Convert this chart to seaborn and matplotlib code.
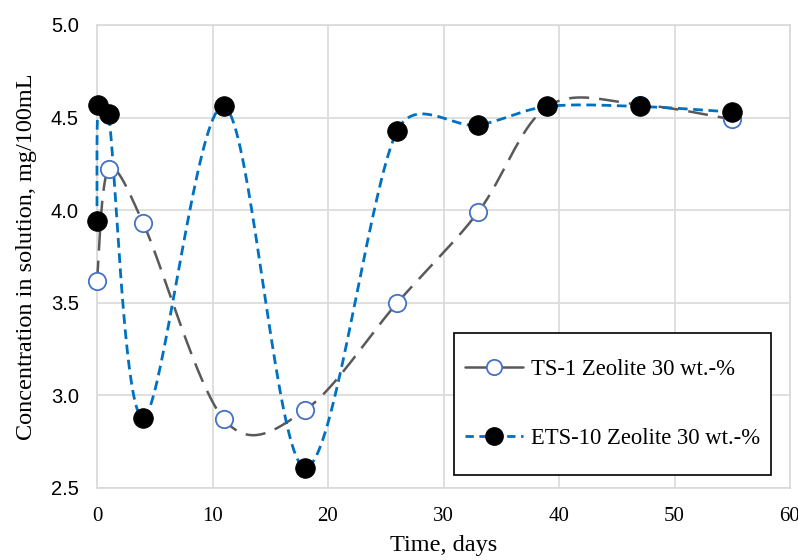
import numpy as np
import pandas as pd
import matplotlib
matplotlib.use("Agg")
import matplotlib.pyplot as plt
from matplotlib.lines import Line2D
from matplotlib.patches import Rectangle
import seaborn as sns

# ---- data ----
ts1_days = [0, 1, 4, 11, 18, 26, 33, 39, 47, 55]
ts1_conc = [3.62, 4.22, 3.93, 2.87, 2.92, 3.50, 3.99, 4.56, 4.57, 4.49]
ets_days = [0, 0.1, 1, 4, 11, 18, 26, 33, 39, 47, 55]
ets_conc = [3.94, 4.57, 4.52, 2.88, 4.56, 2.61, 4.43, 4.46, 4.56, 4.56, 4.53]
ts1_label = "TS-1 Zeolite 30 wt.-%"
ets_label = "ETS-10 Zeolite 30 wt.-%"
x_ticks = [0, 10, 20, 30, 40, 50, 60]
y_ticks = [2.5, 3.0, 3.5, 4.0, 4.5, 5.0]

W, H, DPI = 7.98, 5.6, 100
L, R, T, B = 97, 790, 25, 488
XMIN, XMAX, YMIN, YMAX = 0, 60, 2.5, 5.0
SX = (R - L) / (XMAX - XMIN)
SY = (B - T) / (YMAX - YMIN)


def excel_smooth(xs, ys, n=40):
    """Bezier smoothing similar to spreadsheet 'smoothed line', in pixel space."""
    P = np.column_stack([np.asarray(xs, float) * SX, np.asarray(ys, float) * SY])
    m = len(P)
    out = [P[0]]
    for i in range(m - 1):
        p0 = P[i - 1] if i > 0 else P[i]
        p1 = P[i]
        p2 = P[i + 1]
        p3 = P[i + 2] if i + 2 < m else P[i + 1]
        d12 = np.linalg.norm(p2 - p1)
        a1 = (p2 - p0) / 6.0
        a2 = (p3 - p1) / 6.0
        for a in (a1, a2):
            la = np.linalg.norm(a)
            if la > d12 / 2 and la > 0:
                a *= (d12 / 2) / la
        c1 = p1 + a1
        c2 = p2 - a2
        t = np.linspace(0, 1, n)[1:, None]
        seg = ((1 - t) ** 3) * p1 + 3 * ((1 - t) ** 2) * t * c1 + 3 * (1 - t) * t ** 2 * c2 + t ** 3 * p2
        out.extend(seg)
    out = np.array(out)
    return out[:, 0] / SX, out[:, 1] / SY


sns.set_theme(style="white")
plt.rcParams["font.family"] = ["Liberation Serif", "DejaVu Serif"]
plt.rcParams["text.color"] = "black"
plt.rcParams["axes.labelcolor"] = "black"
plt.rcParams["xtick.color"] = "black"
plt.rcParams["ytick.color"] = "black"

fig = plt.figure(figsize=(W, H), dpi=DPI)
ax = fig.add_axes([L / (W * DPI), 1 - B / (H * DPI), (R - L) / (W * DPI), (B - T) / (H * DPI)])

grid_c = "#D9D9D9"
gray = "#595959"
blue = "#0070C0"
mk_edge = "#4472C4"
gray_ls = (0, (8, 4))
blue_ls = (0, (3.5, 2))

cx, cy = excel_smooth(ts1_days, ts1_conc)
ts1_curve = pd.DataFrame({"x": cx, "y": cy})
cx2, cy2 = excel_smooth(ets_days, ets_conc)
ets_curve = pd.DataFrame({"x": cx2, "y": cy2})

sns.lineplot(data=ts1_curve, x="x", y="y", sort=False, estimator=None, ax=ax,
             color=gray, linewidth=1.8, linestyle=gray_ls, clip_on=False, zorder=3)
sns.lineplot(data=ets_curve, x="x", y="y", sort=False, estimator=None, ax=ax,
             color=blue, linewidth=2.0, linestyle=blue_ls, clip_on=False, zorder=4)

sns.scatterplot(x=ts1_days, y=ts1_conc, ax=ax, s=12.5 ** 2, color="white",
                edgecolor=mk_edge, linewidth=1.3, clip_on=False, zorder=5, legend=False)
sns.scatterplot(x=ets_days, y=ets_conc, ax=ax, s=14.2 ** 2, color="black",
                edgecolor="black", linewidth=0.5, clip_on=False, zorder=6, legend=False)

ax.set_xlim(XMIN, XMAX)
ax.set_ylim(YMIN, YMAX)
ax.set_xticks(x_ticks)
ax.set_yticks(y_ticks)
ax.set_xticklabels([str(v) for v in x_ticks], fontsize=15, family=["Liberation Serif"])
ax.set_yticklabels([f"{v:.1f}" for v in y_ticks], fontsize=14.5, family=["Liberation Sans"])
ax.tick_params(axis="x", length=0, pad=14)
ax.tick_params(axis="y", length=0, pad=13)
ax.grid(True, color=grid_c, linewidth=1.2, zorder=0)
ax.set_axisbelow(True)
for s in ax.spines.values():
    s.set_color(grid_c)
    s.set_linewidth(1.2)
ax.set_xlabel("Time, days", fontsize=17.5, labelpad=6)
ax.set_ylabel("Concentration in solution, mg/100mL", fontsize=17.5, labelpad=10)

# legend box
bx0, bx1, by0, by1 = 454, 771, 333, 475
rect = Rectangle(((bx0 - L) / (R - L), (B - by1) / (B - T)), (bx1 - bx0) / (R - L), (by1 - by0) / (B - T),
                 transform=ax.transAxes, facecolor="white", edgecolor="black", linewidth=1.2,
                 zorder=10, clip_on=False)
ax.add_patch(rect)
handles = [
    Line2D([], [], color=gray, linewidth=1.8, marker="o", markersize=11, markerfacecolor="white",
           markeredgecolor=mk_edge, markeredgewidth=1.3),
    Line2D([], [], color=blue, linewidth=2.0, linestyle=(0, (3, 2)), marker="o", markersize=12.5,
           markerfacecolor="black", markeredgecolor="black"),
]
leg = ax.legend(handles, [ts1_label, ets_label], loc="center",
                bbox_to_anchor=(((bx0 + bx1) / 2 - L) / (R - L), (B - (by0 + by1) / 2) / (B - T)),
                frameon=False, fontsize=16.3, handlelength=2.6, handletextpad=0.35,
                labelspacing=2.1, borderpad=0)
leg.set_zorder(11)

fig.savefig("out.png", dpi=DPI)
